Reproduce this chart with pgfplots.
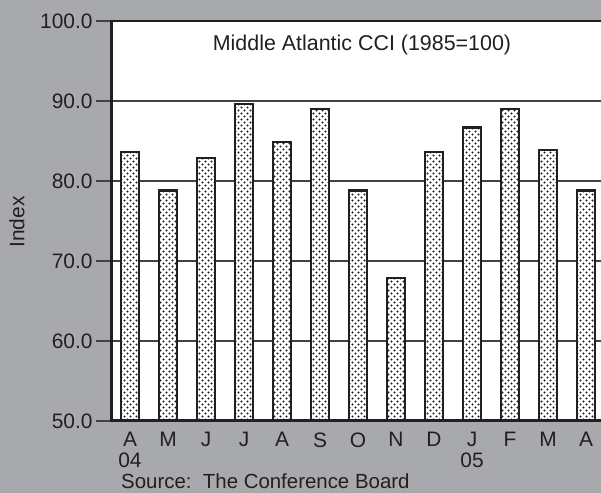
\documentclass[border=0pt]{standalone}
\usepackage{pgfplots}
\pgfplotsset{compat=1.18}
\usepackage{fontspec}
\setmainfont{Liberation Sans}
\usetikzlibrary{patterns}
\definecolor{bg}{RGB}{168,169,173}
\definecolor{txt}{RGB}{35,31,32}
\pgfdeclarepatternformonly{cdots}{\pgfqpoint{-1bp}{-1bp}}{\pgfqpoint{7bp}{7bp}}{\pgfqpoint{6bp}{6bp}}{%
 \pgfpathcircle{\pgfqpoint{1.5bp}{1.5bp}}{1.15bp}%
 \pgfpathcircle{\pgfqpoint{4.5bp}{4.5bp}}{1.15bp}%
 \pgfusepath{fill}}
\newcommand{\fs}{\fontsize{21}{20.5}\selectfont}
\begin{document}
\begin{tikzpicture}[x=1bp,y=1bp]
\useasboundingbox (0,0) rectangle (601,493);
\clip (0,0) rectangle (601,493);
\fill[bg] (0,0) rectangle (601,493);
\begin{axis}[
  at={(111bp,72bp)}, anchor=south west,
  width=494bp, height=400bp, scale only axis,
  xmin=-0.5, xmax=12.5, ymin=50, ymax=100,
  axis background/.style={fill=white},
  axis line style={line width=2bp, draw=txt},
  ytick={50,60,...,100},
  yticklabel style={/pgf/number format/.cd, fixed, fixed zerofill, precision=1},
  /pgf/number format/assume math mode=true,
  ticklabel style={font=\fs, text=txt},
  ymajorgrids, grid style={line width=1.5bp, draw=txt!85},
  tick align=outside,
  ytick style={line width=1.5bp, draw=txt!85},
  major tick length=15bp,
  xtick={0,...,12},
  xticklabels={{A\\04},M,J,J,A,S,O,N,D,{J\\05},F,M,A},
  xticklabel style={align=center, anchor=north, yshift=7bp},
  x tick style={draw=none},
  ytick pos=left,
]
\addplot[ybar, bar width=18bp, draw=txt, line width=2.5bp, fill=white,
  postaction={pattern=cdots, pattern color=txt}]
  coordinates {(0,83.6) (1,78.8) (2,82.9) (3,89.6) (4,84.9) (5,89.0) (6,78.8)
               (7,67.9) (8,83.6) (9,86.7) (10,89.0) (11,83.9) (12,78.8)};
\draw[line width=3bp, draw=txt] (rel axis cs:0,1) -- (rel axis cs:0,0) -- (rel axis cs:1,0);
\end{axis}
\node[anchor=base, text=txt, font=\fontsize{21.5}{23}\selectfont] at (362,442) {Middle Atlantic CCI (1985=100)};
\node[rotate=90, text=txt, font=\fs] at (17,271) {Index};
\node[anchor=base west, text=txt, font=\fontsize{20.5}{22}\selectfont, inner sep=0pt] at (121,4.5) {Source:\ \ The Conference Board};
\end{tikzpicture}
\end{document}
